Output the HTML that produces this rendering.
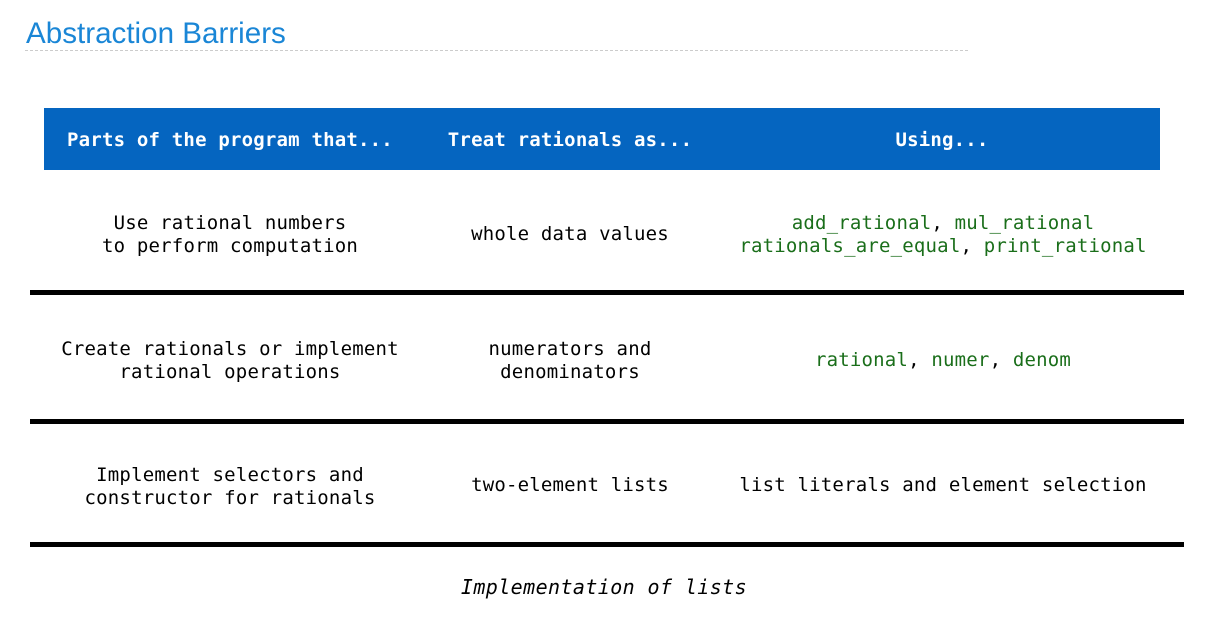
<!DOCTYPE html>
<html><head><style>
body{margin:0;width:1209px;height:621px;background:#fff;position:relative;overflow:hidden;font-family:"DejaVu Sans Mono","Liberation Mono",monospace;}
.t{position:absolute;left:26px;top:17px;font-family:"Liberation Sans",sans-serif;font-size:29.6px;color:#1a86d6;}
.dl{position:absolute;left:25px;top:50px;width:943px;border-top:1px dashed #ccc;}
.hdr{position:absolute;left:44px;top:108px;width:1116px;height:62px;background:#0565c0;}
.c{position:absolute;text-align:center;font-size:19px;line-height:23px;color:#000;white-space:pre;transform:translateX(-50%);letter-spacing:0.2px;}
.h{color:#fff;font-weight:bold;top:129px;}
.bar{position:absolute;left:30px;width:1154px;height:5px;background:#000;}
.g{color:#1a6e1a;}
</style></head><body>
<div class="t">Abstraction Barriers</div>
<div class="dl"></div>
<div class="hdr"></div>
<div class="c h" style="left:230px">Parts of the program that...</div>
<div class="c h" style="left:570px">Treat rationals as...</div>
<div class="c h" style="left:942px">Using...</div>

<div class="c" style="left:230px;top:212px">Use rational numbers
to perform computation</div>
<div class="c" style="left:570px;top:223px">whole data values</div>
<div class="c" style="left:943px;top:212px"><span class="g">add_rational</span>, <span class="g">mul_rational</span>
<span class="g">rationals_are_equal</span>, <span class="g">print_rational</span></div>
<div class="bar" style="top:290px"></div>

<div class="c" style="left:230px;top:338px">Create rationals or implement
rational operations</div>
<div class="c" style="left:570px;top:338px">numerators and
denominators</div>
<div class="c" style="left:943px;top:349px"><span class="g">rational</span>, <span class="g">numer</span>, <span class="g">denom</span></div>
<div class="bar" style="top:419px"></div>

<div class="c" style="left:230px;top:464px">Implement selectors and
constructor for rationals</div>
<div class="c" style="left:570px;top:474px">two-element lists</div>
<div class="c" style="left:943px;top:474px">list literals and element selection</div>
<div class="bar" style="top:542px"></div>

<div class="c" style="left:604px;top:576px;font-style:italic;font-size:20px;letter-spacing:0.4px">Implementation of lists</div>
</body></html>
